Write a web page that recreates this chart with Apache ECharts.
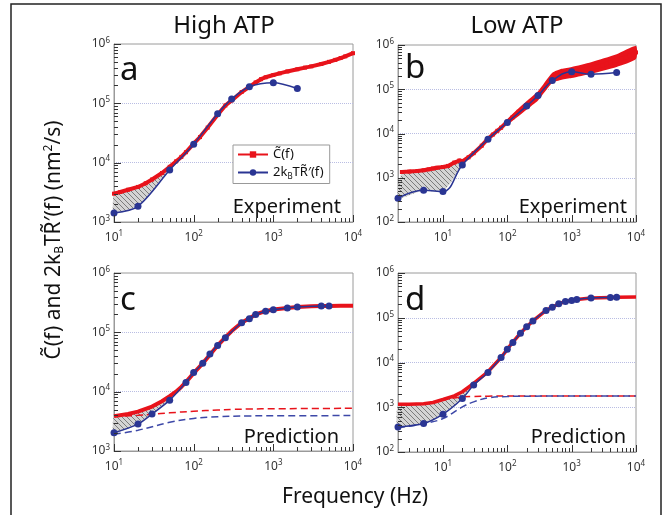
<!DOCTYPE html>
<html>
<head>
<meta charset="utf-8">
<script src="https://cdn.jsdelivr.net/npm/echarts@6/dist/echarts.min.js"></script>
<style>
html, body { margin: 0; padding: 0; background: #fff; }
#chart { width: 670px; height: 515px; }
</style>
</head>
<body>
<div id="chart"></div>
<script>
// values (frequency in Hz, spectra in nm^2/s)

// panel a - high ATP, experiment
var redA_f = [10, 12, 15, 20, 25, 30, 40, 50, 60, 70, 80, 100, 120, 150, 200, 250, 300, 400, 500, 600, 700, 800, 1000, 1200, 1500, 2000, 2500, 3000, 4000, 5000, 6000, 7000, 8000, 10000];
var redA_v = [3000, 3200, 3500, 3900, 4500, 5200, 6700, 8500, 10500, 12500, 15000, 21000, 27000, 39000, 64000, 92000, 112000, 155000, 190000, 225000, 255000, 275000, 300000, 320000, 345000, 375000, 400000, 420000, 460000, 500000, 540000, 580000, 620000, 700000];
var blueA_f = [10, 20, 50, 100, 200, 300, 500, 1000, 2000];
var blueA_v = [1420, 1840, 7500, 20500, 67000, 118000, 190000, 222000, 178000];

// panel b - low ATP, experiment
var redB_f = [2.3, 3, 4, 5, 6, 7, 8, 10, 12, 15, 18, 20, 25, 30, 40, 50, 60, 70, 80, 100, 120, 150, 200, 250, 300, 400, 500, 600, 700, 800, 1000, 1200, 1500, 2000, 2500, 3000, 4000, 5000, 6000, 7000, 8000, 10000];
var redB_v = [1350, 1380, 1420, 1480, 1550, 1620, 1680, 1750, 1850, 2200, 2450, 2350, 2900, 3600, 5300, 7600, 9500, 11500, 13500, 18500, 23000, 31000, 43000, 57000, 72000, 120000, 180000, 205000, 222000, 232000, 245000, 255000, 275000, 300000, 325000, 350000, 400000, 450000, 490000, 530000, 570000, 680000];
var spreadB_f = [100, 200, 300, 500, 700, 1000, 2000, 5000, 10000];
var spreadB_hi = [21000, 54000, 90000, 235000, 290000, 320000, 410000, 620000, 950000];
var spreadB_lo = [16000, 35000, 56000, 140000, 165000, 180000, 225000, 320000, 480000];
var blueB_f = [2, 5, 10, 20, 50, 100, 200, 300, 500, 1000, 2000, 5000];
var blueB_v = [346, 520, 490, 1950, 7400, 17700, 42000, 72000, 157000, 250000, 218000, 238000];

// panel c - high ATP, prediction
var redC_f = [10, 15, 20, 30, 40, 50, 60, 70, 80, 100, 130, 160, 200, 250, 300, 400, 500, 600, 800, 1000, 1500, 2000, 3000, 4000, 5000, 7000, 10000];
var redC_v = [3870, 4200, 4600, 5600, 6900, 8400, 10000, 12000, 14500, 20500, 30000, 42000, 60000, 82000, 105000, 145000, 172000, 200000, 228000, 242000, 258000, 268000, 275000, 278000, 279000, 280000, 280000];
var blueC_f = [10, 20, 30, 50, 80, 100, 130, 160, 200, 250, 400, 500, 600, 800, 1000, 1500, 2000, 4000, 5000];
var blueC_v = [2030, 2840, 4200, 7200, 14300, 21000, 30000, 43000, 60000, 81000, 145000, 170000, 200000, 227000, 240000, 257000, 267000, 278000, 279000];
var redDashC_f = [10, 20, 30, 50, 100, 200, 300, 500, 1000, 10000];
var redDashC_v = [3800, 4000, 4170, 4400, 4680, 4900, 5010, 5100, 5150, 5250];
var blueDashC_f = [10, 20, 50, 100, 200, 500, 1000, 10000];
var blueDashC_v = [1910, 2240, 3040, 3540, 3780, 3900, 3930, 3950];

// panel d - low ATP, prediction
var redD_f = [2, 3, 5, 7, 10, 15, 20, 30, 50, 80, 100, 120, 160, 200, 250, 400, 500, 630, 800, 1000, 1200, 2000, 4000, 5000, 10000];
var redD_v = [1170, 1170, 1200, 1280, 1490, 1800, 2220, 3400, 6200, 12900, 19700, 27900, 45000, 63000, 85000, 146000, 172000, 205000, 232000, 244000, 257000, 276000, 285000, 288000, 290000];
var blueD_f = [2, 5, 10, 20, 30, 50, 80, 100, 122, 160, 200, 250, 400, 500, 630, 800, 1000, 1200, 2000, 4000, 5000];
var blueD_v = [363, 432, 700, 1570, 3130, 6000, 12900, 19700, 27900, 45000, 63000, 85000, 146000, 172000, 205000, 232000, 244000, 257000, 276000, 285000, 288000];
var redDashD_f = [2, 5, 10, 20, 30, 50, 100, 10000];
var redDashD_v = [1170, 1200, 1450, 1700, 1740, 1770, 1780, 1780];
var blueDashD_f = [2, 5, 10, 20, 30, 50, 100, 200, 10000];
var blueDashD_v = [350, 430, 560, 1020, 1320, 1620, 1740, 1770, 1780];

// where the hatched gap between the two curves closes
var hatchEnd = [50, 20, 50, 30];

var panelTitles = ['High ATP', 'Low ATP'];
var panelLetters = ['a', 'b', 'c', 'd'];
var panelNotes = ['Experiment', 'Experiment', 'Prediction', 'Prediction'];

var RED = '#e8131b';
var BLUE = '#2a3593';
var FONT = 'Noto Sans';

function zip(f, v) {
  return f.map(function (x, i) { return [x, v[i]]; });
}
function upTo(pts, fmax) {
  return pts.filter(function (p) { return p[0] <= fmax; });
}
function decades(min, max) {
  var out = [];
  for (var k = Math.ceil(Math.log10(min) - 1e-9); k <= Math.log10(max) + 1e-9; k++) out.push(Math.pow(10, k));
  return out;
}
function minors(min, max) {
  var out = [];
  for (var k = Math.floor(Math.log10(min)); k < Math.log10(max); k++) {
    for (var d = 2; d <= 9; d++) {
      var v = d * Math.pow(10, k);
      if (v > min && v < max) out.push(v);
    }
  }
  return out;
}
function powLabel(v) {
  return '10{s|' + Math.round(Math.log10(v)) + '}';
}

// hatch pattern for the gap region
var hatch = document.createElement('canvas');
hatch.width = 5; hatch.height = 5;
(function () {
  var c = hatch.getContext('2d');
  c.fillStyle = '#d4d4d4';
  c.fillRect(0, 0, 5, 5);
  c.strokeStyle = '#555';
  c.lineWidth = 0.7;
  c.beginPath();
  c.moveTo(0, 0); c.lineTo(5, 5);
  c.moveTo(-1, 4); c.lineTo(1, 6);
  c.moveTo(4, -1); c.lineTo(6, 1);
  c.stroke();
})();

var grids = [
  { left: 114, top: 44, width: 239, height: 178 },
  { left: 398, top: 45, width: 238, height: 177 },
  { left: 114, top: 273, width: 239, height: 178 },
  { left: 398, top: 273, width: 238, height: 179 }
];
var xMins = [10, 2, 10, 2];
var xMax = 10000;
var yMins = [1000, 100, 1000, 100];
var yMax = 1000000;

var labelRich = {
  s: { fontSize: 8, fontFamily: FONT, color: '#333', padding: [0, 0, 7, 0] }
};
var TICK = '#333';

var xAxes = [], yAxes = [];
grids.forEach(function (g, i) {
  g.show = true;
  g.borderColor = '#9a9a9a';
  g.borderWidth = 1;
  xAxes.push({
    type: 'log', gridIndex: i, min: xMins[i], max: xMax, position: 'bottom',
    axisLine: { show: true, onZero: false, lineStyle: { color: '#9a9a9a' } },
    axisTick: { show: false },
    axisLabel: { customValues: decades(xMins[i], xMax), formatter: powLabel, margin: 8, color: '#333', fontSize: 12, fontFamily: FONT, rich: labelRich },
    splitLine: { show: false }
  });
  yAxes.push({
    type: 'log', gridIndex: i, min: yMins[i], max: yMax, position: 'left',
    axisLine: { show: true, onZero: false, lineStyle: { color: '#9a9a9a' } },
    axisTick: { show: false },
    axisLabel: { customValues: decades(yMins[i], yMax), formatter: powLabel, margin: 4, color: '#333', fontSize: 12, fontFamily: FONT, rich: labelRich },
    splitLine: { show: true, showMinLine: false, showMaxLine: false, lineStyle: { color: '#b9bde3', type: 'dotted', width: 1 } }
  });
});

// inward log ticks, placed through the axis scales
function tickSeries(gi) {
  var xt = [], yt = [];
  decades(xMins[gi], xMax).forEach(function (v) { xt.push([v, 7]); });
  minors(xMins[gi], xMax).forEach(function (v) { xt.push([v, 4]); });
  decades(yMins[gi], yMax).forEach(function (v) { yt.push([v, 7]); });
  minors(yMins[gi], yMax).forEach(function (v) { yt.push([v, 4]); });
  return {
    type: 'custom', xAxisIndex: gi, yAxisIndex: gi, silent: true, z: 6, clip: false,
    data: [[xMins[gi], yMins[gi]]],
    renderItem: function (params, api) {
      var o = api.coord([xMins[gi], yMins[gi]]);
      var children = [];
      xt.forEach(function (t) {
        var x = Math.round(api.coord([t[0], yMins[gi]])[0]) + 0.5;
        children.push({ type: 'line', shape: { x1: x, y1: o[1], x2: x, y2: o[1] - t[1] }, style: { stroke: TICK, lineWidth: 1 } });
      });
      yt.forEach(function (t) {
        var y = Math.round(api.coord([xMins[gi], t[0]])[1]) + 0.5;
        children.push({ type: 'line', shape: { x1: o[0], y1: y, x2: o[0] + t[1], y2: y }, style: { stroke: TICK, lineWidth: 1 } });
      });
      return { type: 'group', children: children };
    }
  };
}

function band(gi, upper, lower, fill, z) {
  return {
    type: 'custom', xAxisIndex: gi, yAxisIndex: gi, silent: true, z: z,
    data: [upper[0]],
    renderItem: function (params, api) {
      var pts = upper.map(function (p) { return api.coord(p); });
      for (var i = lower.length - 1; i >= 0; i--) pts.push(api.coord(lower[i]));
      return { type: 'polygon', shape: { points: pts, smooth: 0.2 }, style: { fill: fill, stroke: null } };
    }
  };
}
function redLine(gi, pts, withMarks, width) {
  return {
    name: 'C', type: 'line', xAxisIndex: gi, yAxisIndex: gi, data: pts, z: 3,
    symbol: 'rect', symbolSize: 4, showSymbol: withMarks, showAllSymbol: true,
    itemStyle: { color: RED }, lineStyle: { color: RED, width: width }
  };
}
function blueLine(gi, pts, smooth) {
  return {
    name: 'R', type: 'line', xAxisIndex: gi, yAxisIndex: gi, data: pts, z: 4,
    symbol: 'circle', symbolSize: 7, smooth: smooth,
    itemStyle: { color: BLUE }, lineStyle: { color: BLUE, width: 1.5 }
  };
}
function dashLine(gi, pts, color) {
  return {
    name: 'fit', type: 'line', xAxisIndex: gi, yAxisIndex: gi, data: pts, z: 2,
    symbol: 'none', smooth: 0.4,
    lineStyle: { color: color, width: 1.5, type: [7, 4] }
  };
}

var redA = zip(redA_f, redA_v), blueA = zip(blueA_f, blueA_v);
var redB = zip(redB_f, redB_v), blueB = zip(blueB_f, blueB_v);
var redC = zip(redC_f, redC_v), blueC = zip(blueC_f, blueC_v);
var redD = zip(redD_f, redD_v), blueD = zip(blueD_f, blueD_v);

var series = [
  band(0, upTo(redA, hatchEnd[0]), upTo(blueA, hatchEnd[0]), { image: hatch, repeat: 'repeat' }, 1),
  redLine(0, redA, true, 4),
  blueLine(0, blueA, 0.3),

  band(1, upTo(redB, hatchEnd[1]), upTo(blueB, hatchEnd[1]), { image: hatch, repeat: 'repeat' }, 1),
  band(1, zip(spreadB_f, spreadB_hi), zip(spreadB_f, spreadB_lo), RED, 2),
  redLine(1, redB, true, 4),
  blueLine(1, blueB, 0.4),

  band(2, upTo(redC, hatchEnd[2]), upTo(blueC, hatchEnd[2]), { image: hatch, repeat: 'repeat' }, 1),
  dashLine(2, zip(redDashC_f, redDashC_v), RED),
  dashLine(2, zip(blueDashC_f, blueDashC_v), '#3d48a8'),
  redLine(2, redC, false, 4),
  blueLine(2, blueC, 0.3),

  band(3, upTo(redD, hatchEnd[3]), upTo(blueD, hatchEnd[3]), { image: hatch, repeat: 'repeat' }, 1),
  dashLine(3, zip(redDashD_f, redDashD_v), RED),
  dashLine(3, zip(blueDashD_f, blueDashD_v), '#3d48a8'),
  redLine(3, redD, false, 3.5),
  blueLine(3, blueD, 0.3),

  tickSeries(0), tickSeries(1), tickSeries(2), tickSeries(3)
];

var letterPos = [[120, 54], [405, 52], [120, 284], [405, 284]];
var notePos = [[341, 217], [627, 217], [339, 447], [626, 447]];
var graphics = [
  { type: 'rect', shape: { x: 11, y: 4, width: 650, height: 530 }, style: { fill: null, stroke: '#222', lineWidth: 1.5 }, silent: true },
  { type: 'text', x: 224, y: 26, style: { text: panelTitles[0], font: '24px "' + FONT + '"', fill: '#111', textAlign: 'center', textVerticalAlign: 'middle' } },
  { type: 'text', x: 517, y: 26, style: { text: panelTitles[1], font: '24px "' + FONT + '"', fill: '#111', textAlign: 'center', textVerticalAlign: 'middle' } },
  { type: 'text', x: 355, y: 497, style: { text: 'Frequency (Hz)', font: '21px "' + FONT + '"', fill: '#111', textAlign: 'center', textVerticalAlign: 'middle' } },
  {
    type: 'text', x: 54, y: 240, rotation: Math.PI / 2,
    style: {
      text: 'C\u0303(f) and 2k{sub|B}TR\u0303\u2032(f) (nm{sup|2}/s)',
      font: '21px "' + FONT + '"', fill: '#111', textAlign: 'center', textVerticalAlign: 'middle',
      rich: {
        sub: { fontSize: 12, fontFamily: FONT, fill: '#111', padding: [12, 0, 0, 0] },
        sup: { fontSize: 12, fontFamily: FONT, fill: '#111', padding: [0, 0, 10, 0] }
      }
    }
  }
];
panelLetters.forEach(function (t, i) {
  graphics.push({ type: 'text', x: letterPos[i][0], y: letterPos[i][1], z: 10, style: { text: t, font: '33px "' + FONT + '"', fill: '#111', textAlign: 'left', textVerticalAlign: 'top' } });
  graphics.push({ type: 'text', x: notePos[i][0], y: notePos[i][1], z: 10, style: { text: panelNotes[i], font: '20px "' + FONT + '"', fill: '#111', textAlign: 'right', textVerticalAlign: 'bottom' } });
});

var chart = echarts.init(document.getElementById('chart'));
chart.setOption({
  animation: false,
  backgroundColor: '#fff',
  grid: grids,
  xAxis: xAxes,
  yAxis: yAxes,
  legend: {
    data: ['C', 'R'], left: 233, top: 145, orient: 'vertical',
    itemWidth: 30, itemHeight: 8, itemGap: 5,
    padding: [3, 6, 3, 4], borderColor: '#999', borderWidth: 1, backgroundColor: '#fff',
    formatter: function (name) {
      return name === 'C' ? 'C\u0303(f)' : '2k{sub|B}TR\u0303\u2032(f)';
    },
    textStyle: {
      fontSize: 13, fontFamily: FONT, color: '#111',
      rich: { sub: { fontSize: 8, fontFamily: FONT, color: '#111', padding: [8, 0, 0, 0] } }
    }
  },
  graphic: graphics,
  series: series
});
</script>
</body>
</html>
